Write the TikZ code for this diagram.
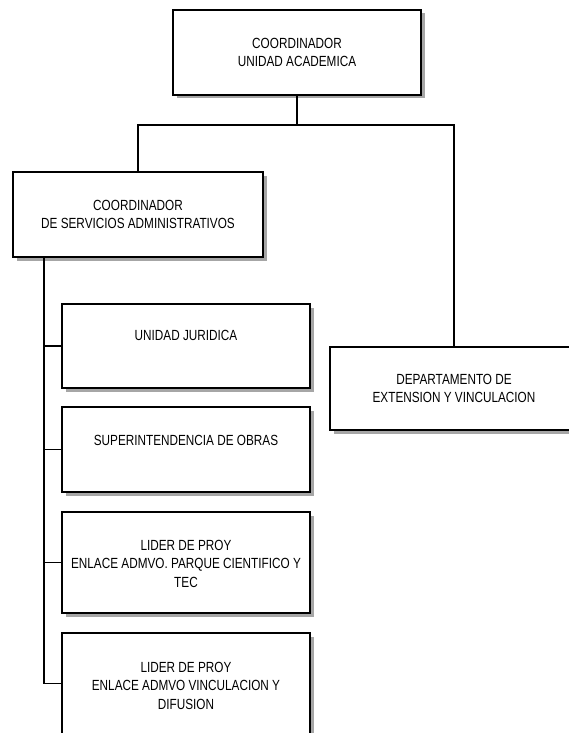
\documentclass[tikz,border=0pt]{standalone}
\usepackage{fontspec}
\setmainfont{Liberation Sans}[FakeStretch=0.8]
\begin{document}
\begin{tikzpicture}[x=1pt,y=-1pt,
  box/.style={draw=black, line width=1.6pt, fill=white, rectangle, inner sep=0pt,
    align=center, font=\fontsize{14.7}{18.8}\selectfont,
    preaction={draw=none, fill=gray!70, transform canvas={shift={(3.5pt,-3.5pt)}}}},
  txt/.style={align=center, inner sep=0pt, anchor=north, font=\fontsize{14.7}{18.5}\selectfont},
  conn/.style={draw=black, line width=1.6pt}]
\useasboundingbox (0,0) rectangle (569,733);
\clip (0,0) rectangle (569,733);
% boxes
\node[box, minimum width=248pt, minimum height=85pt] (top) at (297,52.5) {COORDINADOR\\UNIDAD ACADEMICA};
\node[box, minimum width=250pt, minimum height=85pt] (adm) at (138,214.5) {COORDINADOR\\DE SERVICIOS ADMINISTRATIVOS};
\node[box, minimum width=248pt, minimum height=83pt] (ext) at (454,388.5) {DEPARTAMENTO DE\\EXTENSION Y VINCULACION};
\node[box, minimum width=248pt, minimum height=84pt] (c1) at (186,346) {};
\node[box, minimum width=248pt, minimum height=85pt] (c2) at (186,449.5) {};
\node[box, minimum width=248pt, minimum height=101pt] (c3) at (186,562.5) {};
\node[box, minimum width=248pt, minimum height=101pt] (c4) at (186,683.5) {};
% texts of the lower boxes
\node[txt] (t1) at (186,330) {UNIDAD JURIDICA};
\node[txt] (t2) at (186,435) {SUPERINTENDENCIA DE OBRAS};
\node[txt] (t3) at (186,540) {LIDER DE PROY\\ENLACE ADMVO. PARQUE CIENTIFICO Y\\TEC};
\node[txt] (t4) at (186,662) {LIDER DE PROY\\ENLACE ADMVO VINCULACION Y\\DIFUSION};
% connectors
\coordinate (j) at (297,125);
\coordinate (trunk) at (44,257);
\draw[conn] (top.south) -- (j);
\draw[conn] (adm.north) |- (j) -| (ext.north);
\draw[conn] (trunk) |- (c4.west);
\draw[conn] (trunk) |- (c1.west);
\draw[conn] (trunk) |- (c2.west);
\draw[conn] (trunk) |- (c3.west);
\end{tikzpicture}
\end{document}
